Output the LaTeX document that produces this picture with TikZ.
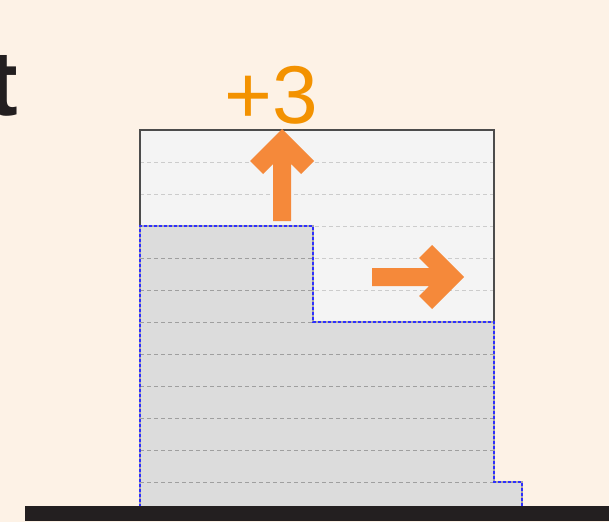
\documentclass[tikz,border=0pt]{standalone}
\usepackage{fontspec}
\setmainfont{Liberation Sans}
\definecolor{cream}{HTML}{FDF2E6}
\definecolor{lightcell}{HTML}{F4F4F4}
\definecolor{darkcell}{HTML}{DCDCDC}
\definecolor{arroworange}{HTML}{F5893A}
\definecolor{textorange}{HTML}{F39200}
\definecolor{ink}{HTML}{231F20}
\definecolor{outlineblue}{HTML}{2F2FFF}
\tikzset{
  gridline/.style={gray!40, dash pattern=on 4pt off 3pt, line width=0.8pt},
  darkgridline/.style={gray!75, dash pattern=on 4pt off 3pt, line width=0.8pt},
  blueoutline/.style={outlineblue, dash pattern=on 3pt off 2pt, line width=1.6pt},
  fatarrow/.style={fill=arroworange, draw=none}
}
\begin{document}
\begin{tikzpicture}[x=1pt,y=-1pt]
\useasboundingbox[fill=cream] (0,0) rectangle (609,522);
% capacity box
\fill[lightcell] (140,130) rectangle (494,507);
\foreach \y in {162,194,...,482}
  \draw[gridline] (140,\y) -- (494,\y);
% used part
\fill[darkcell] (140,226) -- (313,226) -- (313,322) -- (494,322) -- (494,482)
  -- (522,482) -- (522,507) -- (140,507) -- cycle;
\begin{scope}
\clip (140,226) -- (313,226) -- (313,322) -- (494,322) -- (494,482)
  -- (522,482) -- (522,507) -- (140,507) -- cycle;
\foreach \y in {258,290,...,482}
  \draw[darkgridline] (140,\y) -- (522,\y);
\end{scope}
\draw[gray!60!black, line width=1.4pt] (140,507) -- (140,130) -- (494,130) -- (494,482);
\draw[gray!70, line width=1.6pt] (140,507) -- (140,226) -- (313,226) -- (313,322) -- (494,322)
  -- (494,482) -- (522,482) -- (522,507);
\draw[blueoutline] (140,507) -- (140,226) -- (313,226) -- (313,322) -- (494,322)
  -- (494,482) -- (522,482) -- (522,507);
% arrows
\fill[fatarrow] (282,129) -- (314,161) -- (301,174) -- (291,164) -- (291,221)
  -- (273,221) -- (273,164) -- (263,174) -- (250,161) -- cycle;
\fill[fatarrow] (464,277) -- (432,245) -- (419,258) -- (429,268) -- (372,268)
  -- (372,286) -- (429,286) -- (419,296) -- (432,309) -- cycle;
% floor
\fill[ink] (25,506) rectangle (609,521);
% labels
\node[textorange, anchor=base, inner sep=0pt, font=\fontsize{82}{82}\selectfont] (plus) at (271,123) {+3};
\node[ink, anchor=base east, inner sep=0pt, font=\fontsize{92}{92}\selectfont\bfseries] (tee) at (18,115) {t};
\end{tikzpicture}
\end{document}
